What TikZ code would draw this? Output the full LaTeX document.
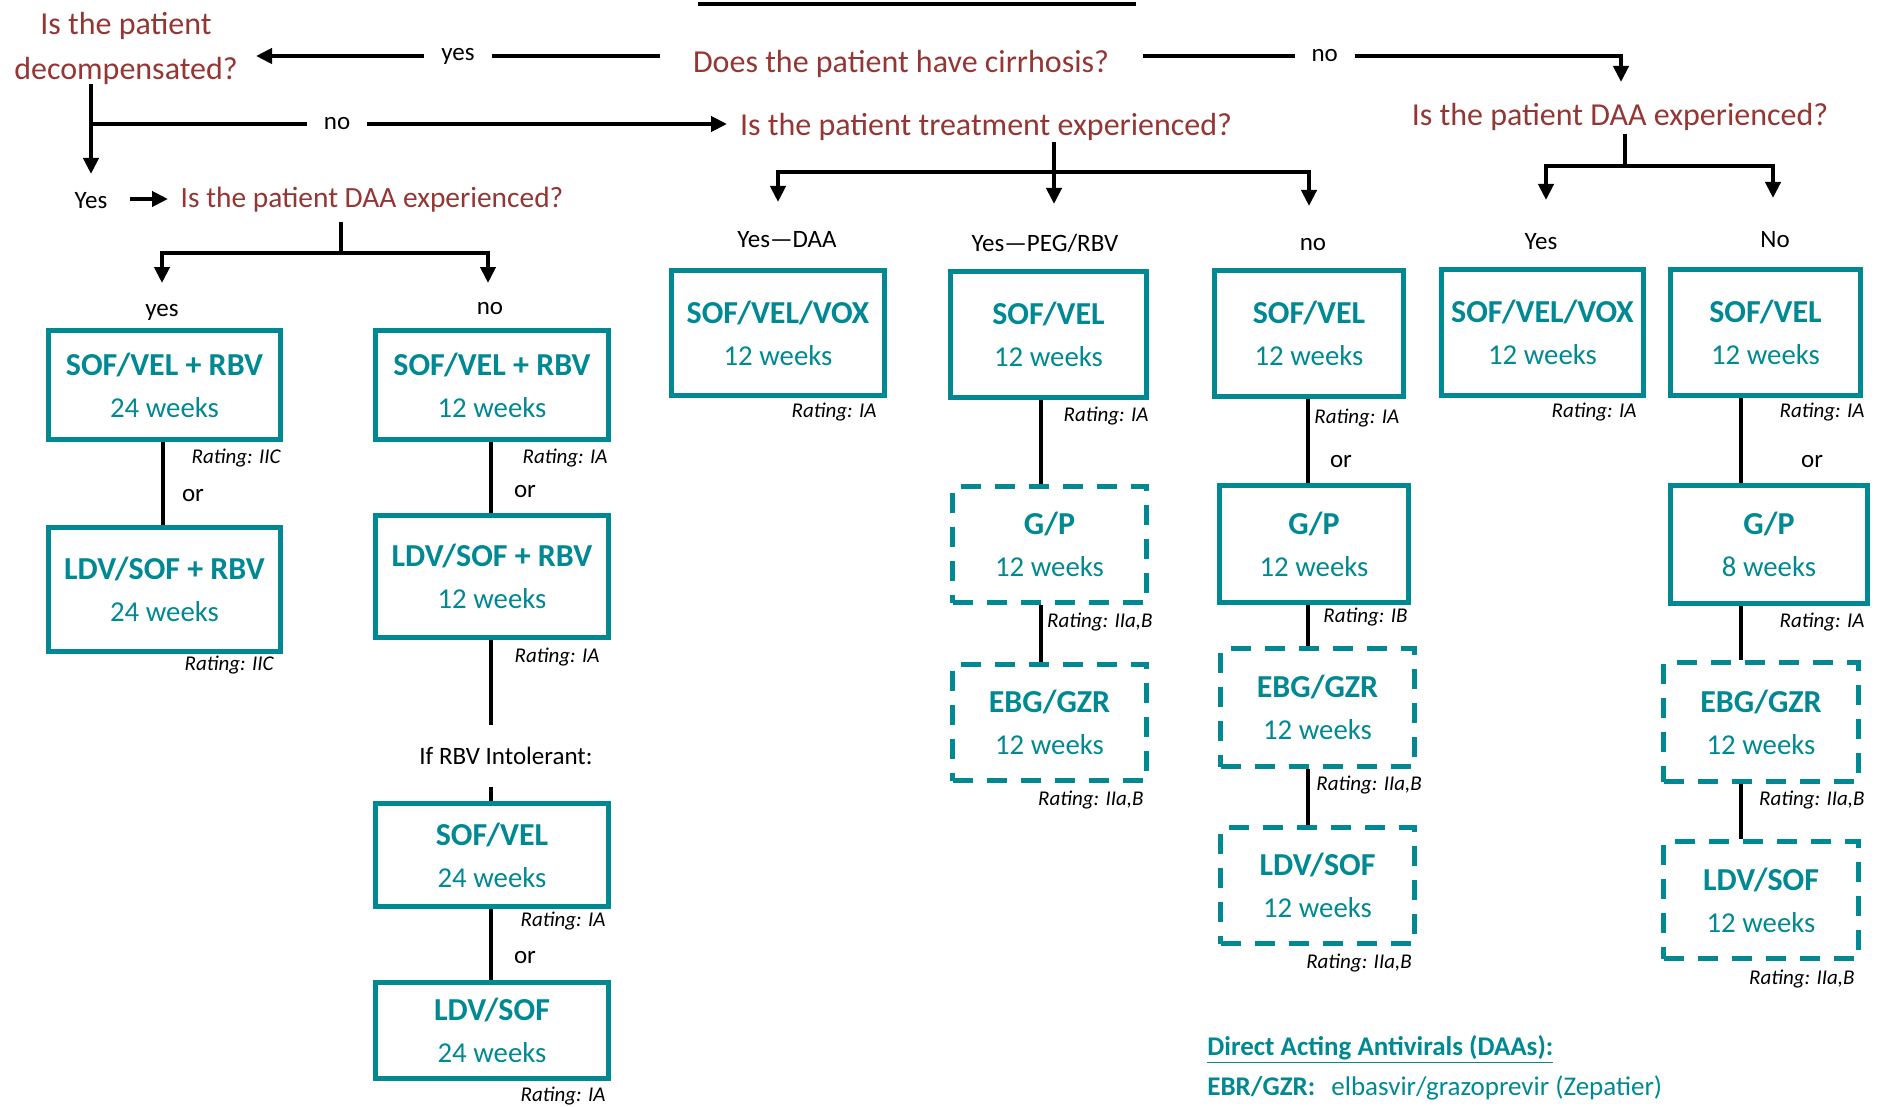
\documentclass[tikz,border=0pt]{standalone}
\usepackage{fontspec}
\setmainfont{Carlito}
\usetikzlibrary{arrows.meta}

\definecolor{drugteal}{RGB}{0,137,146}
\definecolor{askred}{RGB}{148,54,52}

\newcommand{\drugtext}[2]{{\fontsize{16}{21}\selectfont\bfseries #1}\\#2}

\tikzset{%
  drug box/.style={
    draw=drugteal,
    line width=2.5pt,
    text=drugteal,
    align=center,
    inner sep=0pt,
    font=\fontsize{14.4}{21}\selectfont
  },
  drug dashed/.style={
    dash pattern=on 10pt off 7pt
  },
  question/.style={
    text=askred,
    font=\fontsize{16}{22.5}\selectfont,
    inner sep=0pt
  },
  answer/.style={
    font=\fontsize{12.5}{15}\selectfont,
    inner sep=1pt
  },
  on line/.style={
    answer,
    fill=white,
    inner xsep=8.5pt
  },
  rating/.style={
    font=\fontsize{10.5}{12}\selectfont\itshape,
    inner sep=0pt
  },
  legend/.style={
    text=drugteal,
    font=\fontsize{13.5}{16}\selectfont,
    inner sep=0pt
  },
  link/.style={line width=2pt},
}

\begin{document}
\begin{tikzpicture}[x=0.5pt, y=-0.5pt, >={Triangle[width=7.5pt,length=8pt]}]

\path [use as bounding box] (0,0) rectangle (1883,1107);

\draw [link] (698,4) -- (1136,4);

% questions
\node [question, align=center] (decomp) at (126,48) {Is the patient\\decompensated?};
\node [question] (cirr) at (901,63.5) {Does the patient have cirrhosis?};
\node [question] (treat) at (986,126.5) {Is the patient treatment experienced?};
\node [question] (daa-right) at (1620,116.5) {Is the patient DAA experienced?};
\node [question, font=\fontsize{14.7}{18}\selectfont] (daa-left) at (372,199.5) {Is the patient DAA experienced?};
\node [answer] (yes-left) at (91,201) {Yes};

\coordinate (cirr-yes) at (660,56);
\coordinate (decomp-in) at (256,56);
\coordinate (cirr-no) at (1143,56);
\coordinate (daa-right-in) at (1621,82);
\coordinate (decomp-out) at (91,84);
\coordinate (decomp-split) at (91,124);
\coordinate (decomp-yes) at (91,174);
\coordinate (treat-in) at (727,124);
\coordinate (yes-left-out) at (130,199);
\coordinate (daa-left-in) at (168,199);

\draw [link, ->] (cirr-yes) -- node [on line] {yes} (decomp-in);
\draw [link, ->] (cirr-no) -| node [on line, pos=0.19] {no} (daa-right-in);
\draw [link, ->] (decomp-out) -- (decomp-yes);
\draw [link, ->] (decomp-split) -- node [on line, pos=0.387] {no} (treat-in);
\draw [link, ->] (yes-left-out) -- (daa-left-in);

% branches
\coordinate (daa-left-out) at (341,222);
\coordinate (daa-left-split) at (341,253);
\coordinate (A-in) at (162,283);
\coordinate (B-in) at (488,283);
\coordinate (treat-out) at (1054,142);
\coordinate (treat-split) at (1054,172);
\coordinate (C-in) at (778,202);
\coordinate (D-in) at (1054,204);
\coordinate (E-in) at (1309,206);
\coordinate (daa-right-out) at (1625,134);
\coordinate (daa-right-split) at (1625,166);
\coordinate (F-in) at (1546,200);
\coordinate (G-in) at (1773,198);

\draw [link] (daa-left-out) -- (daa-left-split);
\draw [link, ->] (daa-left-split) -| (A-in);
\draw [link, ->] (daa-left-split) -| (B-in);
\draw [link, ->] (treat-out) -- (D-in);
\draw [link, ->] (treat-split) -| (C-in);
\draw [link, ->] (treat-split) -| (E-in);
\draw [link] (daa-right-out) -- (daa-right-split);
\draw [link, ->] (daa-right-split) -| (F-in);
\draw [link, ->] (daa-right-split) -| (G-in);

\foreach \x/\y/\l [count=\i] in {162/312/yes, 490/309/no, 787/240/Yes—DAA, 1045/243/{Yes—PEG/RBV}, 1313/245/no, 1541/242/Yes, 1775/240/No}
  \node [answer] (answer-\i) at (\x,\y) {\l};

% regimens
\foreach \n/\x/\y/\w/\h/\s/\d/\t in {%
  A1/164.5/385/116/54.5/solid/{SOF/VEL + RBV}/24 weeks,%
  A2/164.5/589.5/116/62/solid/{LDV/SOF + RBV}/24 weeks,%
  B1/492/385/116.5/54.5/solid/{SOF/VEL + RBV}/12 weeks,%
  B2/492/576.5/116.5/61/solid/{LDV/SOF + RBV}/12 weeks,%
  B3/492/855/116.5/51.5/solid/{SOF/VEL}/24 weeks,%
  B4/492/1030.5/116.5/48/solid/{LDV/SOF}/24 weeks,%
  C1/778/333/106.5/62.5/solid/{SOF/VEL/VOX}/12 weeks,%
  D1/1048.5/334.5/98/63/solid/{SOF/VEL}/12 weeks,%
  D2/1049.5/544.5/97/58/dashed/{G/P}/12 weeks,%
  D3/1049.5/722.5/97/58/dashed/{EBG/GZR}/12 weeks,%
  E1/1309/333.5/94.5/63/solid/{SOF/VEL}/12 weeks,%
  E2/1314/544/94.5/58.5/solid/{G/P}/12 weeks,%
  E3/1317.5/707.5/97/59/dashed/{EBG/GZR}/12 weeks,%
  E4/1317.5/885.5/97/58/dashed/{LDV/SOF}/12 weeks,%
  F1/1542.5/332.5/101/63/solid/{SOF/VEL/VOX}/12 weeks,%
  G1/1765.5/332.5/95/63/solid/{SOF/VEL}/12 weeks,%
  G2/1769/544.5/98.5/59/solid/{G/P}/8 weeks,%
  G3/1761/722/97.5/59.5/dashed/{EBG/GZR}/12 weeks,%
  G4/1761/900/97.5/58.5/dashed/{LDV/SOF}/12 weeks%
}
  \node [drug box, drug \s/.try, minimum width=\w pt, minimum height=\h pt] (\n) at (\x,\y) {\drugtext{\d}{\t}};

\foreach \a/\x/\y/\g [count=\i] in {%
  east/281/458/IIC,%
  east/274/665/IIC,%
  east/608/458/IA,%
  east/600/657/IA,%
  east/606/921/IA,%
  east/606/1096/IA,%
  east/877/412/IA,%
  east/1149/416/IA,%
  east/1153/622/{IIa,B},%
  east/1144/800/{IIa,B},%
  west/1314/418/IA,%
  west/1323/617/IB,%
  west/1316/785/{IIa,B},%
  center/1359/963/{IIa,B},%
  east/1637/412/IA,%
  east/1865/412/IA,%
  east/1865/622/IA,%
  east/1865/800/{IIa,B},%
  east/1855/979/{IIa,B}%
}
  \node [rating, anchor=\a] (rating-\i) at (\x,\y) {Rating: \g};

% alternatives
\coordinate (col-A) at (163,0);
\coordinate (col-B) at (491,0);
\coordinate (col-D) at (1041,0);
\coordinate (col-E) at (1308,0);
\coordinate (col-G) at (1741,0);

\foreach \a/\b/\c in {A1/A2/A, B1/B2/B, B3/B4/B, D1/D2/D, D2/D3/D, E1/E2/E, E2/E3/E, E3/E4/E, G1/G2/G, G2/G3/G, G3/G4/G}
  \draw [link] (\a.south -| col-\c) -- (\b.north -| col-\c);

\node [answer, inner ysep=11pt] (rbv-intolerant) at (506,756) {If RBV Intolerant:};
\draw [link] (B2.south -| col-B) -- (rbv-intolerant.north -| col-B);
\draw [link] (rbv-intolerant.south -| col-B) -- (B3.north -| col-B);

\foreach \x/\y [count=\i] in {193/496, 525/492, 525/958, 1341/462, 1812/462}
  \node [answer] (or-\i) at (\x,\y) {or};

% legend
\node [legend, anchor=base west] (legend-title) at (1207,1055) {\textbf{\underline{Direct Acting Antivirals (DAAs):}}};
\node [legend, anchor=base west] (legend-ebr) at (1207,1095) {\textbf{EBR/GZR:}};
\node [legend, anchor=base west] (legend-ebr-name) at (1331,1095) {elbasvir/grazoprevir (Zepatier)};

\end{tikzpicture}
\end{document}
